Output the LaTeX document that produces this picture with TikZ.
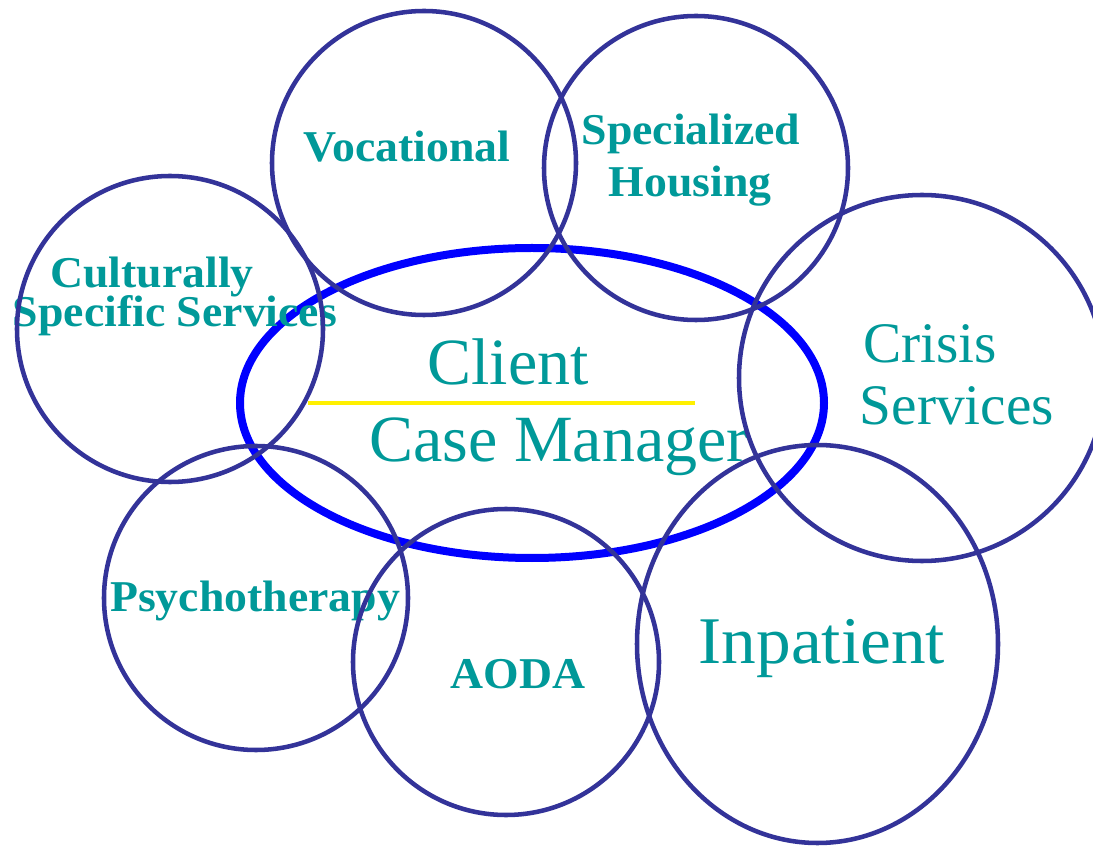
\documentclass[tikz,border=0pt]{standalone}
\usepackage{fontspec}
\setmainfont{Liberation Serif}
\newfontfamily\widefont[FakeStretch=1.04]{Liberation Serif}
\definecolor{ringc}{HTML}{333399}
\definecolor{tealc}{HTML}{009999}
\definecolor{bluec}{HTML}{0000FF}
\definecolor{yellc}{HTML}{FFF000}
\tikzset{
  ring/.style={draw=ringc, line width=3.4pt},
  lbl/.style={text=tealc, inner sep=0pt, anchor=base, font=\widefont\bfseries\fontsize{33}{36}\selectfont},
  big/.style={text=tealc, inner sep=0pt, anchor=base, font=\fontsize{49.5}{52}\selectfont},
}
\begin{document}
\begin{tikzpicture}[x=0.75pt,y=-0.75pt]
\useasboundingbox (0,0) rectangle (1093,848);
\fill[white] (0,0) rectangle (1093,848);
% central ellipse
\coordinate (cm) at (532,403);
\draw[draw=bluec, line width=6pt] (cm) ellipse [x radius=292, y radius=155];
\coordinate (yl) at (308,403);
\coordinate (yr) at (695,403);
\draw[draw=yellc, line width=3pt] (yl) -- (yr);
% texts
\node[big] (client) at (508,385) {Client};
\node[big] (casem) at (559,462) {Case Manager};
\node[big, font=\fontsize{43}{47}\selectfont] (crisis1) at (930,363) {Crisis};
\node[big, font=\fontsize{43}{47}\selectfont] (crisis2) at (957,425) {Services};
\node[big, font=\widefont\fontsize{50}{54}\selectfont] (inpat) at (822,663) {Inpatient};
\node[lbl] (voc) at (407,162) {Vocational};
\node[lbl] (spec1) at (691,145) {Specialized};
\node[lbl] (spec2) at (690,197) {Housing};
\node[lbl] (cult1) at (152,288) {Culturally};
\node[lbl] (cult2) at (175,327) {Specific Services};
\node[lbl] (psy) at (255,611) {Psychotherapy};
\node[lbl] (aoda) at (518,688) {AODA};
% circles
\coordinate (cvoc) at (424,163);
\coordinate (chous) at (696,168);
\coordinate (ccult) at (170,329);
\coordinate (ccris) at (922,378);
\coordinate (cpsy) at (256,598);
\coordinate (caoda) at (506,662);
\coordinate (cinp) at (817.5,644);
\draw[ring] (cvoc) circle [radius=152];
\draw[ring] (chous) circle [radius=152];
\draw[ring] (ccult) circle [radius=153];
\draw[ring] (ccris) circle [radius=183];
\draw[ring] (cpsy) circle [radius=152];
\draw[ring] (caoda) circle [radius=153];
\draw[ring] (cinp) ellipse [x radius=180.5, y radius=199];
\end{tikzpicture}
\end{document}
